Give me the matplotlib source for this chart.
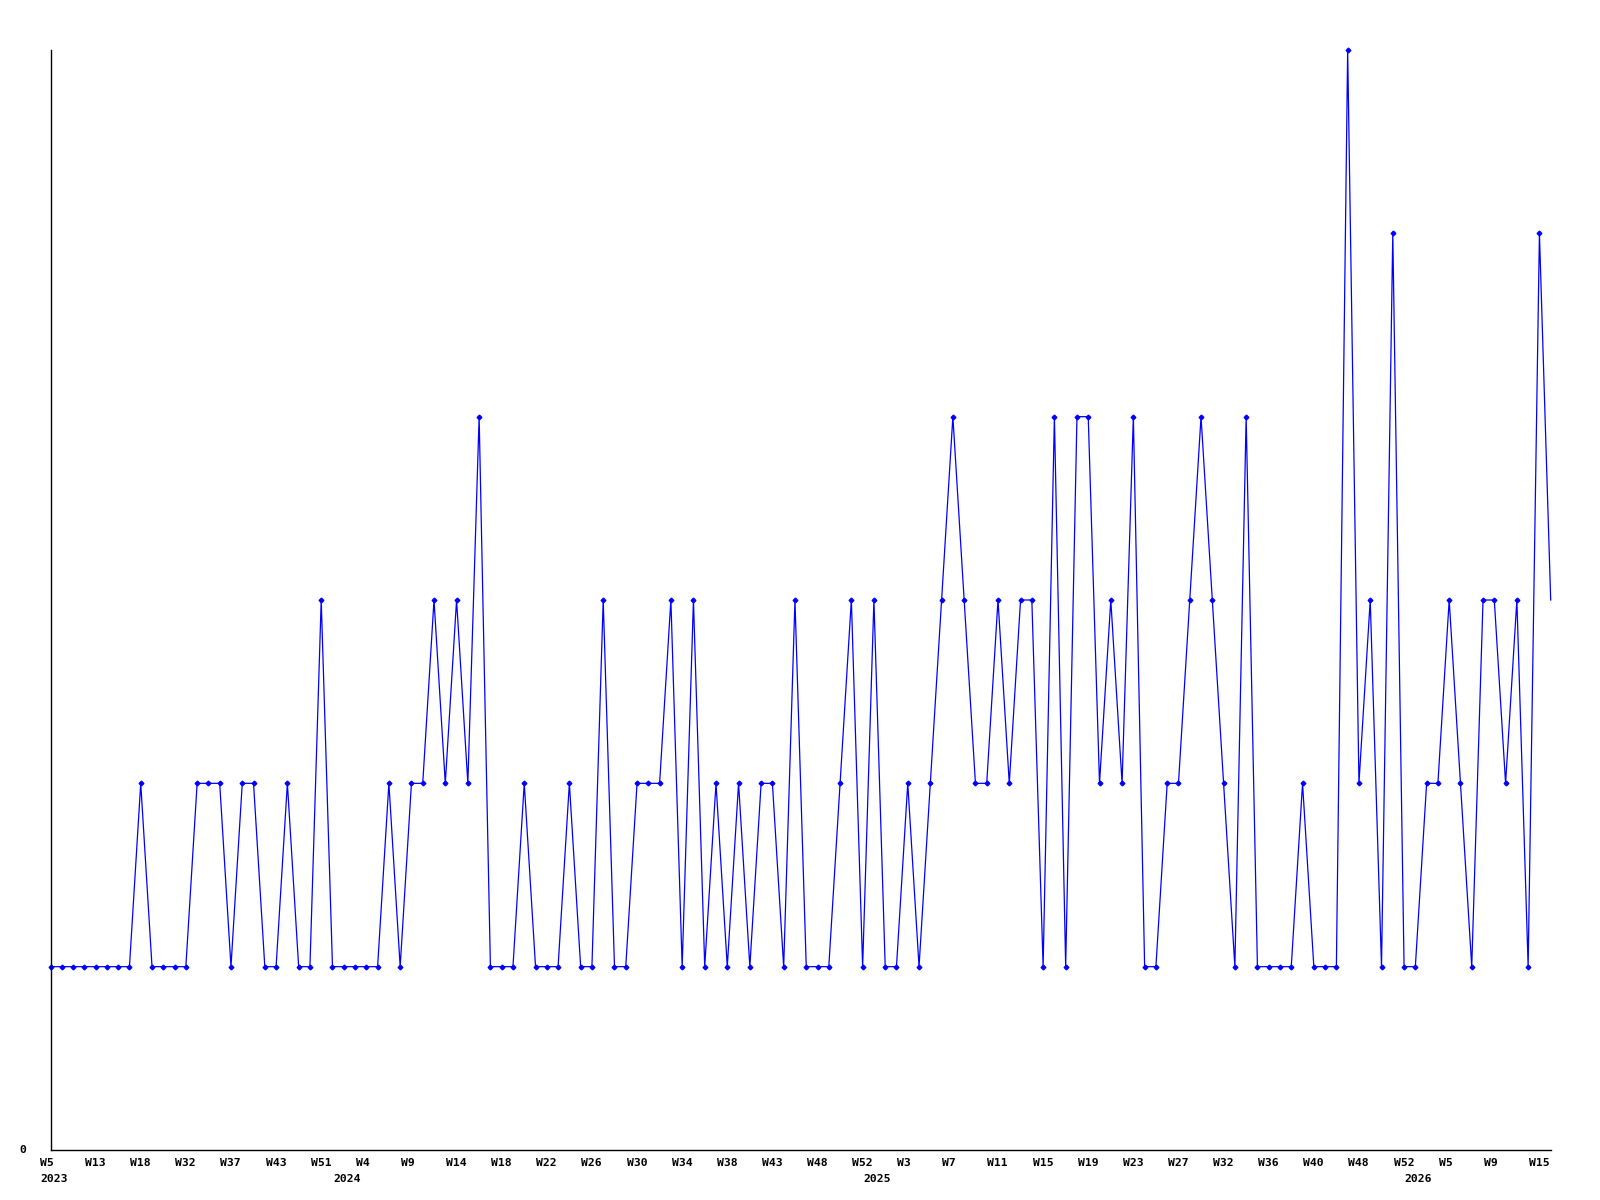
import matplotlib
matplotlib.use("Agg")
from matplotlib import pyplot as plt
from matplotlib import transforms

# one value per week, in order
valores = [1, 1, 1, 1, 1, 1, 1, 1, 2, 1, 1, 1, 1, 2, 2, 2, 1, 2, 2, 1,
           1, 2, 1, 1, 3, 1, 1, 1, 1, 1, 2, 1, 2, 2, 3, 2, 3, 2, 4, 1,
           1, 1, 2, 1, 1, 1, 2, 1, 1, 3, 1, 1, 2, 2, 2, 3, 1, 3, 1, 2,
           1, 2, 1, 2, 2, 1, 3, 1, 1, 1, 2, 3, 1, 3, 1, 1, 2, 1, 2, 3,
           4, 3, 2, 2, 3, 2, 3, 3, 1, 4, 1, 4, 4, 2, 3, 2, 4, 1, 1, 2,
           2, 3, 4, 3, 2, 1, 4, 1, 1, 1, 1, 2, 1, 1, 1, 6, 2, 3, 1, 5,
           1, 1, 2, 2, 3, 2, 1, 3, 3, 2, 3, 1, 5, 3]

# labels shown every 4th week
semanas = ["W5", "W13", "W18", "W32", "W37", "W43", "W51", "W4", "W9", "W14",
           "W18", "W22", "W26", "W30", "W34", "W38", "W43", "W48", "W52", "W3",
           "W7", "W11", "W15", "W19", "W23", "W27", "W32", "W36", "W40", "W48",
           "W52", "W5", "W9", "W15"]
passo = 4

anos = ["2023", "2024", "2025", "2026"]
inicio_ano = [0, 26, 73, 121]

fig = plt.figure(figsize=(16, 12), dpi=100)
ax = fig.add_axes([50.5 / 1600, 1 - 1150 / 1200, 1500.2 / 1600, 1100 / 1200])

x = list(range(len(valores)))
ax.plot(x, valores, color="#0000ff", linewidth=0.9, marker="D", markersize=2.4,
        markevery=list(range(len(valores) - 1)), clip_on=False)

ax.set_xlim(0, len(valores) - 1)
ax.set_ylim(0, 6)
ax.set_xticks([])
ax.set_yticks([])
ax.spines["top"].set_visible(False)
ax.spines["right"].set_visible(False)
ax.spines["left"].set_linewidth(1.0)
ax.spines["bottom"].set_linewidth(1.0)

fonte = dict(family="DejaVu Sans Mono", fontweight="bold", fontsize=8.2)

trans_x = ax.get_xaxis_transform()
off_sem = transforms.ScaledTranslation(-10.5 / 100, -12.5 / 100, fig.dpi_scale_trans)
off_ano = transforms.ScaledTranslation(-10.5 / 100, -28.5 / 100, fig.dpi_scale_trans)

for i, s in enumerate(semanas):
    ax.text(i * passo, 0, s, transform=trans_x + off_sem, ha="left", va="center", **fonte)

for pos, a in zip(inicio_ano, anos):
    ax.text(pos, 0, a, transform=trans_x + off_ano, ha="left", va="center", **fonte)

off_zero = transforms.ScaledTranslation(-27.5 / 100, 0, fig.dpi_scale_trans)
ax.text(0, 0, "0", transform=ax.get_yaxis_transform() + off_zero, ha="center", va="center", **fonte)

fig.savefig("out.png", dpi=100)
